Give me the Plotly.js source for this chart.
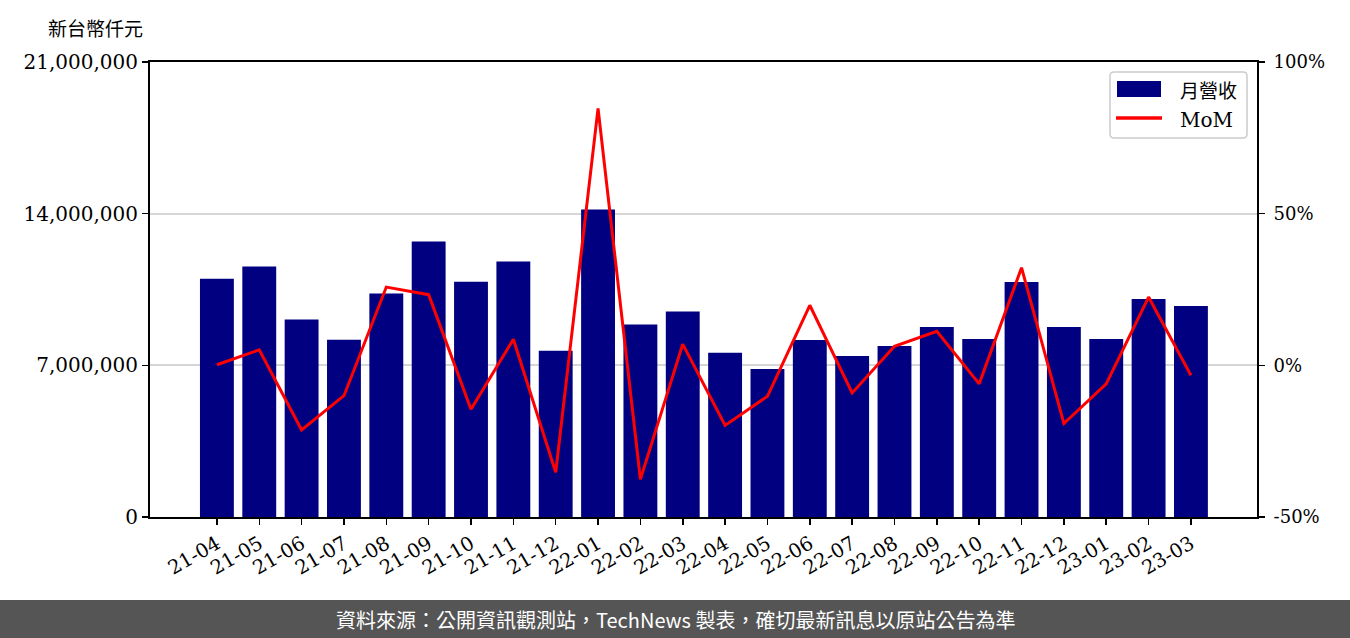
<!DOCTYPE html>
<html>
<head>
<meta charset="utf-8">
<script src="https://cdn.plot.ly/plotly-3.0.1.min.js"></script>
<style>html,body{margin:0;padding:0;background:#fff;}#chart{width:1350px;height:638px;}</style>
</head>
<body>
<div id="chart"></div>
<script>
const months = ["21-04","21-05","21-06","21-07","21-08","21-09","21-10","21-11","21-12","22-01","22-02","22-03","22-04","22-05","22-06","22-07","22-08","22-09","22-10","22-11","22-12","23-01","23-02","23-03"];
const revenue = [11000000,11560000,9110000,8180000,10310000,12710000,10860000,11790000,7670000,14190000,8880000,9480000,7580000,6830000,8170000,7430000,7890000,8770000,8220000,10850000,8770000,8220000,10060000,9740000];
const mom = [0.2,5.1,-21.3,-10.0,25.8,23.3,-14.5,8.6,-35.3,84.7,-37.6,7.0,-19.8,-10.2,19.8,-9.1,6.3,11.2,-6.1,32.2,-19.2,-6.1,22.5,-3.3];
const leftTickVals = [0,7000000,14000000,21000000];
const leftTickText = ["0","7,000,000","14,000,000","21,000,000"];
const rightTickVals = [-50,0,50,100];
const rightTickText = ["-50%","0%","50%","100%"];
const seriesNames = ["月營收","MoM"];
const unitLabel = "新台幣仟元";
const footerText = "資料來源：公開資訊觀測站，TechNews 製表，確切最新訊息以原站公告為準";

const serif = "DejaVu Serif, Noto Sans CJK TC, serif";
const W = 1350, H = 638, L = 150, R = 1257, T = 62, B = 517;
const pw = R - L, ph = B - T;
const px = x => (x - L) / pw;
const py = y => (B - y) / ph;

const traces = [
  {type:"bar", x:months, y:revenue, name:seriesNames[0], marker:{color:"#000080"}, width:0.8, yaxis:"y", showlegend:false},
  {type:"scatter", mode:"lines", x:months, y:mom, name:seriesNames[1], line:{color:"#ff0000", width:3}, yaxis:"y2", showlegend:false}
];

// legend box (rounded) built from shapes
const lx0 = px(1110), lx1 = px(1247), ly0 = py(138), ly1 = py(72);
const rx = 4 / pw, ry = 4 / ph;
const legendPath = `M ${lx0+rx},${ly1} L ${lx1-rx},${ly1} Q ${lx1},${ly1} ${lx1},${ly1-ry} L ${lx1},${ly0+ry} Q ${lx1},${ly0} ${lx1-rx},${ly0} L ${lx0+rx},${ly0} Q ${lx0},${ly0} ${lx0},${ly0+ry} L ${lx0},${ly1-ry} Q ${lx0},${ly1} ${lx0+rx},${ly1} Z`;

const layout = {
  width:W, height:H,
  margin:{l:L, r:W-R, t:T, b:H-B, pad:0},
  paper_bgcolor:"#ffffff", plot_bgcolor:"#ffffff",
  showlegend:false,
  font:{family:serif, size:18, color:"#000"},
  xaxis:{type:"category", range:[-1.58,24.56], tickangle:-30, ticks:"outside", ticklen:6, tickwidth:1.5, tickcolor:"#000",
         showline:true, linecolor:"#000", linewidth:2, mirror:true, showgrid:false, zeroline:false,
         tickfont:{family:serif, size:19.5, color:"#000"}},
  yaxis:{range:[0,21000000], tickvals:leftTickVals, ticktext:leftTickText, ticks:"outside", ticklen:6, tickwidth:1.5, tickcolor:"#000",
         showline:true, linecolor:"#000", linewidth:2, showgrid:true, gridcolor:"#d6d6d6", gridwidth:1.8, zeroline:false,
         tickfont:{family:serif, size:20, color:"#000"}},
  yaxis2:{overlaying:"y", side:"right", range:[-50,100], tickvals:rightTickVals, ticktext:rightTickText, ticks:"outside", ticklen:6, tickwidth:1.5, tickcolor:"#000",
          showline:true, linecolor:"#000", linewidth:2, showgrid:false, zeroline:false, ticklabelstandoff:5,
          tickfont:{family:serif, size:18, color:"#000"}},
  bargap:0.2,
  shapes:[
    {type:"path", xref:"paper", yref:"paper", path:legendPath, fillcolor:"#ffffff", line:{color:"#cccccc", width:1.5}, layer:"above"},
    {type:"rect", xref:"paper", yref:"paper", x0:px(1117), x1:px(1161), y0:py(97), y1:py(81), fillcolor:"#000080", line:{width:0}, layer:"above"},
    {type:"line", xref:"paper", yref:"paper", x0:px(1116), x1:px(1162), y0:py(118), y1:py(118), line:{color:"#ff0000", width:3.5}, layer:"above"},
    {type:"rect", xref:"paper", yref:"paper", x0:px(0), x1:px(W), y0:py(H), y1:py(600), fillcolor:"#555555", line:{width:0}, layer:"above"}
  ],
  annotations:[
    {text:seriesNames[0], xref:"paper", yref:"paper", x:px(1178), y:py(89), xanchor:"left", yanchor:"middle", showarrow:false,
     font:{family:"Noto Sans CJK TC, serif", size:19, color:"#000"}},
    {text:seriesNames[1], xref:"paper", yref:"paper", x:px(1178), y:py(120), xanchor:"left", yanchor:"middle", showarrow:false,
     font:{family:serif, size:20, color:"#000"}},
    {text:unitLabel, xref:"paper", yref:"paper", x:px(95), y:py(27), xanchor:"center", yanchor:"middle", showarrow:false,
     font:{family:"Noto Sans CJK TC, serif", size:19, color:"#000"}},
    {text:footerText, xref:"paper", yref:"paper", x:px(675), y:py(619), xanchor:"center", yanchor:"middle", showarrow:false,
     font:{family:"Noto Sans CJK TC, sans-serif", size:20, color:"#ffffff"}}
  ]
};

Plotly.newPlot("chart", traces, layout, {displayModeBar:false, staticPlot:true});
</script>
</body>
</html>
